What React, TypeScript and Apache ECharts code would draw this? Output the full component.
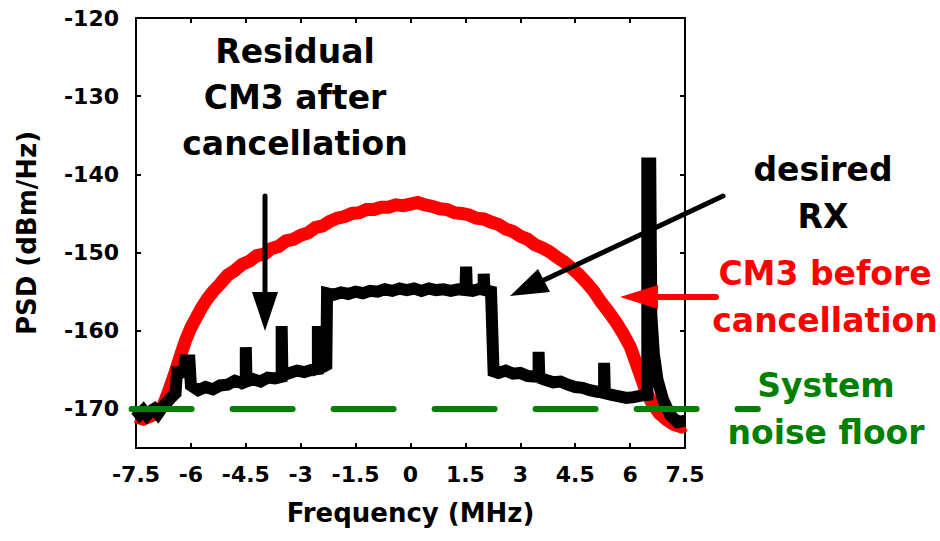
import React, { useEffect, useRef } from "react";
import * as echarts from "echarts";

// Axis tick values
const yTickValues = [-170, -160, -150, -140, -130, -120];

// CM3 before cancellation (red)
const cm3BeforeFreq = [
  -7.5, -7.3, -7.1, -6.9, -6.75, -6.6, -6.45, -6.3, -6.15, -6.0, -5.85, -5.7, -5.55, -5.4, -5.2, -5.0,
  -4.8, -4.6, -4.4, -4.2, -4.0, -3.8, -3.6, -3.4, -3.2, -3.0, -2.8, -2.6, -2.4, -2.2, -2.0, -1.8, -1.6,
  -1.4, -1.2, -1.0, -0.8, -0.6, -0.4, -0.2, 0, 0.2, 0.4, 0.6, 0.8, 1.0, 1.2, 1.4, 1.6, 1.8, 2.0, 2.2,
  2.4, 2.6, 2.8, 3.0, 3.2, 3.4, 3.6, 3.8, 4.0, 4.2, 4.4, 4.6, 4.8, 5.0, 5.2, 5.4, 5.6, 5.8, 6.0, 6.2,
  6.4, 6.6, 6.8, 7.0, 7.2, 7.4, 7.5,
];
const cm3BeforePsd = [
  -171.0, -171.3, -170.9, -170.5, -169.5, -167.6, -165.6, -163.4, -161.3, -159.6, -158.3, -157.0, -155.9,
  -155.0, -154.0, -152.9, -152.3, -151.5, -151.1, -150.4, -150.2, -149.5, -149.2, -148.5, -148.3, -147.8,
  -147.5, -146.8, -146.6, -146.0, -145.6, -145.4, -145.0, -144.9, -144.5, -144.5, -144.2, -144.2, -143.9,
  -144.0, -143.8, -143.6, -143.9, -144.1, -144.4, -144.5, -144.9, -145.0, -145.2, -145.6, -145.7, -146.1,
  -146.4, -147.0, -147.3, -147.9, -148.3, -149.0, -149.4, -149.9, -150.6, -151.2, -152.0, -152.8, -153.8,
  -154.9, -156.3, -157.5, -158.8, -160.3, -162.0, -164.6, -167.3, -169.3, -170.6, -171.4, -172.0, -172.3,
  -172.1,
];

// Desired RX + residual CM3 after cancellation (black)
const rxFreq = [
  -7.5, -7.4, -7.3, -7.2, -7.1, -7.0, -6.9, -6.8, -6.7, -6.55, -6.42, -6.38, -6.2, -6.16, -6.04, -6.0,
  -5.8, -5.6, -5.4, -5.2, -5.0, -4.8, -4.6, -4.5, -4.5, -4.48, -4.3, -4.1, -3.9, -3.7, -3.52, -3.52, -3.5,
  -3.3, -3.1, -2.9, -2.7, -2.53, -2.53, -2.51, -2.38, -2.3, -2.28, -2.1, -1.9, -1.7, -1.5, -1.3, -1.1,
  -0.9, -0.7, -0.5, -0.3, -0.1, 0.1, 0.3, 0.5, 0.7, 0.9, 1.1, 1.3, 1.5, 1.52, 1.54, 1.7, 1.85, 2.0, 2.0,
  2.02, 2.2, 2.27, 2.4, 2.6, 2.8, 3.0, 3.2, 3.5, 3.5, 3.52, 3.7, 3.9, 4.1, 4.3, 4.5, 4.7, 4.9, 5.1, 5.29,
  5.29, 5.31, 5.5, 5.7, 5.9, 6.1, 6.3, 6.47, 6.47, 6.55, 6.58, 6.65, 6.75, 6.9, 7.1, 7.3, 7.5,
];
const rxPsd = [
  -170.1, -170.7, -170.2, -170.8, -170.3, -170.0, -170.6, -169.9, -169.4, -168.6, -168.0, -165.3, -165.3,
  -163.8, -163.8, -167.0, -167.6, -167.2, -167.5, -167.0, -166.9, -166.4, -166.7, -166.5, -162.1, -166.5,
  -166.2, -166.5, -166.0, -166.1, -165.9, -159.4, -165.7, -165.4, -165.1, -165.3, -165.0, -164.9, -159.4,
  -164.8, -164.6, -164.4, -155.2, -155.4, -155.1, -155.3, -155.0, -155.2, -154.9, -155.0, -154.7, -154.9,
  -154.6, -154.8, -154.6, -154.9, -154.6, -154.8, -154.7, -154.9, -154.7, -154.8, -151.8, -154.8, -154.9,
  -154.7, -154.7, -152.7, -154.8, -155.0, -165.2, -165.4, -165.1, -165.5, -165.4, -165.8, -165.9, -162.7,
  -166.0, -166.3, -166.6, -166.5, -166.9, -167.2, -167.3, -167.6, -167.8, -167.9, -164.1, -168.0, -168.2,
  -168.4, -168.6, -168.5, -168.3, -168.2, -138.6, -138.6, -158.0, -163.0, -166.3, -168.8, -170.8, -171.7,
  -171.5,
];

// System noise floor (green dashed), extends past the plot to the label
const noiseFloorFreq = [-7.62, 9.49];
const noiseFloorPsd = [-170, -170];

const zip = (xs: number[], ys: number[]) => xs.map((x, i) => [x, ys[i]]);

const FONT = '"DejaVu Sans", "Liberation Sans", sans-serif';

export default function App() {
  const ref = useRef<HTMLDivElement>(null);

  useEffect(() => {
    document.body.style.margin = "0";
    const chart = echarts.init(ref.current!, null, { renderer: "svg" });

    const axisLine = { show: true, onZero: false, lineStyle: { color: "#000", width: 2 } };
    const axisTick = (extra: any = {}) => ({
      show: true,
      inside: true,
      length: 5,
      lineStyle: { color: "#000", width: 2 },
      ...extra,
    });
    const labelStyle = { color: "#000", fontSize: 22, fontWeight: "bold", fontFamily: FONT };
    const nameStyle = { color: "#000", fontSize: 26, fontWeight: "bold", fontFamily: FONT };

    const annText = (text: string, x: number, y: number, color: string, lineHeight: number) => ({
      type: "text",
      z: 100,
      x,
      y,
      style: {
        text,
        fill: color,
        fontSize: 33,
        fontWeight: "bold",
        fontFamily: FONT,
        align: "center",
        verticalAlign: "middle",
        lineHeight,
      },
    });

    chart.setOption({
      animation: false,
      backgroundColor: "#fff",
      grid: { left: 136, right: 255, top: 18, bottom: 93, outerBoundsMode: "none" },
      xAxis: [
        {
          type: "value",
          min: -7.5,
          max: 7.5,
          interval: 1.5,
          position: "bottom",
          axisLine,
          axisTick: axisTick(),
          axisLabel: { ...labelStyle, margin: 15 },
          splitLine: { show: false },
          name: "Frequency (MHz)",
          nameLocation: "middle",
          nameGap: 52,
          nameTextStyle: nameStyle,
        },
        {
          type: "value",
          min: -7.5,
          max: 7.5,
          interval: 1.5,
          position: "top",
          axisLine,
          axisTick: axisTick(),
          axisLabel: { show: false },
          splitLine: { show: false },
        },
      ],
      yAxis: [
        {
          type: "value",
          min: -175,
          max: -120,
          position: "left",
          axisLine,
          axisTick: axisTick({ customValues: yTickValues }),
          axisLabel: { ...labelStyle, margin: 17, customValues: yTickValues },
          splitLine: { show: false },
          name: "PSD (dBm/Hz)",
          nameLocation: "middle",
          nameGap: 96,
          nameTextStyle: nameStyle,
        },
        {
          type: "value",
          min: -175,
          max: -120,
          position: "right",
          axisLine,
          axisTick: axisTick({ customValues: yTickValues }),
          axisLabel: { show: false },
          splitLine: { show: false },
        },
      ],
      series: [
        {
          name: "CM3 before cancellation",
          type: "line",
          data: zip(cm3BeforeFreq, cm3BeforePsd),
          symbol: "none",
          lineStyle: { color: "#ff0000", width: 13, join: "miter" },
          z: 2,
        },
        {
          name: "Residual / desired RX",
          type: "line",
          data: zip(rxFreq, rxPsd),
          symbol: "none",
          lineStyle: { color: "#000", width: 12, join: "miter" },
          z: 3,
        },
      ],
    });

    // Noise floor line positioned through the axes' own scales (may extend past the grid)
    const p0 = chart.convertToPixel({ xAxisIndex: 0, yAxisIndex: 0 }, [noiseFloorFreq[0], noiseFloorPsd[0]]) as number[];
    const p1 = chart.convertToPixel({ xAxisIndex: 0, yAxisIndex: 0 }, [noiseFloorFreq[1], noiseFloorPsd[1]]) as number[];

    chart.setOption({
      graphic: [
        {
          type: "line",
          z: 50,
          shape: { x1: p0[0], y1: p0[1], x2: p1[0], y2: p1[1] },
          style: { stroke: "#008000", lineWidth: 6, lineDash: [60, 41], lineCap: "round" },
        },
        // Residual arrow
        {
          type: "line",
          z: 100,
          shape: { x1: 265, y1: 196, x2: 265, y2: 300 },
          style: { stroke: "#000", lineWidth: 5, lineCap: "round" },
        },
        {
          type: "polygon",
          z: 100,
          shape: { points: [[252, 292], [278, 292], [265, 331]] },
          style: { fill: "#000" },
        },
        // desired RX arrow
        {
          type: "line",
          z: 100,
          shape: { x1: 723, y1: 196, x2: 542, y2: 281 },
          style: { stroke: "#000", lineWidth: 5, lineCap: "round" },
        },
        {
          type: "polygon",
          z: 100,
          shape: { points: [[510, 296], [538, 269], [550, 292]] },
          style: { fill: "#000" },
        },
        // CM3 before arrow
        {
          type: "line",
          z: 100,
          shape: { x1: 716, y1: 297, x2: 650, y2: 297 },
          style: { stroke: "#ff0000", lineWidth: 6, lineCap: "round" },
        },
        {
          type: "polygon",
          z: 100,
          shape: { points: [[620, 297], [658, 285], [658, 309]] },
          style: { fill: "#ff0000" },
        },
        annText("Residual\nCM3 after\ncancellation", 295, 97, "#000", 46),
        annText("desired\nRX", 823, 193, "#000", 47),
        annText("CM3 before\ncancellation", 825, 297, "#ff0000", 47),
        annText("System\nnoise floor", 826, 409, "#008000", 47),
      ],
    });

    return () => chart.dispose();
  }, []);

  return (
    <div
      ref={ref}
      style={{ position: "fixed", left: 0, top: 0, width: 940, height: 541, background: "#fff" }}
    />
  );
}
